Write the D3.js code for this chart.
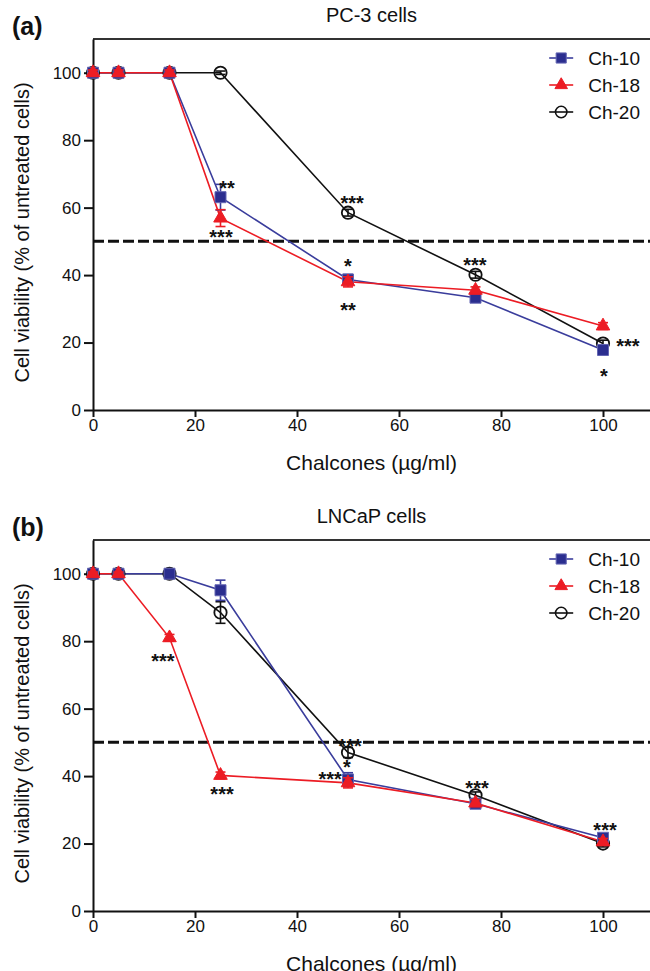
<!DOCTYPE html>
<html>
<head>
<meta charset="utf-8">
<script src="https://cdn.jsdelivr.net/npm/d3@7"></script>
<style>
  body { margin: 0; background: #fff; }
  text { font-family: Arial, "Liberation Sans", sans-serif; fill: #111; }
</style>
</head>
<body>
<div id="chart"></div>
<script>
// Doses tested (µg/ml)
const doses = [0, 5, 15, 25, 50, 75, 100];
const seriesNames = ["Ch-10", "Ch-18", "Ch-20"];

// PC-3 cells, % viability (mean, error)
const pc3Ch10 = [100, 100, 100, 63.1, 38.7, 33.3, 17.8];
const pc3Ch10Err = [0.8, 0.8, 0.8, 3.8, 1.5, 1.0, 1.5];
const pc3Ch18 = [100, 100, 100, 56.9, 38.0, 35.5, 24.9];
const pc3Ch18Err = [0.8, 0.8, 0.8, 2.5, 1.5, 1.0, 1.0];
const pc3Ch20 = [100, 100, 100, 100, 58.5, 40.1, 19.7];
const pc3Ch20Err = [0.5, 0.5, 0.5, 0.5, 1.0, 1.0, 1.0];

// LNCaP cells
const lncapCh10 = [100, 100, 100, 95.1, 39.0, 31.8, 21.7];
const lncapCh10Err = [0.5, 0.5, 0.5, 3.0, 2.0, 1.0, 1.0];
const lncapCh18 = [100, 100, 81.0, 40.2, 38.0, 32.0, 20.5];
const lncapCh18Err = [0.5, 0.5, 1.0, 1.0, 1.5, 1.0, 1.0];
const lncapCh20 = [100, 100, 100, 88.5, 47.0, 34.3, 20.0];
const lncapCh20Err = [0.5, 0.5, 0.5, 3.2, 1.5, 1.0, 1.0];

// significance marks: [dose, viability, label]
const pc3Stars = [[26.3, 67.2, "**"], [25.1, 52.7, "***"], [50.8, 63.0, "***"], [50, 44.1, "*"],
  [50, 31.1, "**"], [74.9, 44.4, "***"], [104.9, 20.4, "***"], [100.2, 11.5, "*"]];
const lncapStars = [[13.7, 75.7, "***"], [25.3, 36.1, "***"], [46.5, 40.5, "***"], [50.4, 50.3, "***"],
  [49.8, 44.1, "*"], [75.3, 37.9, "***"], [100.4, 25.4, "***"]];

const xTicks = [0, 20, 40, 60, 80, 100];
const yTicks = [0, 20, 40, 60, 80, 100];
const threshold = 50;

function pageLoad() {

const margin = { top: 39, left: 93 };
const width = 561;
const height = 371;
const panelGap = 501;

const svg = d3.select("#chart")
  .append("svg")
    .attr("width", 650)
    .attr("height", 971);

const x = d3.scaleLinear().domain([0, 110]).range([0, width]);
const y = d3.scaleLinear().domain([0, 110]).range([height, 0]);

const styles = {
  "Ch-10": { color: "#3a3d9c", fill: "#2b2e8f", stroke: "#6466b3", shape: d3.symbolSquare, size: 121 },
  "Ch-18": { color: "#ec1c24", fill: "#ec1c24", stroke: "#ec1c24", shape: d3.symbolTriangle, size: 80 },
  "Ch-20": { color: "#111", fill: "none", stroke: "#111", shape: d3.symbolCircle, size: 120 }
};

const panels = [
  { tag: "(a)", title: "PC-3 cells", series: [pc3Ch20, pc3Ch10, pc3Ch18],
    errs: [pc3Ch20Err, pc3Ch10Err, pc3Ch18Err], stars: pc3Stars },
  { tag: "(b)", title: "LNCaP cells", series: [lncapCh20, lncapCh10, lncapCh18],
    errs: [lncapCh20Err, lncapCh10Err, lncapCh18Err], stars: lncapStars }
];
const drawOrder = ["Ch-20", "Ch-10", "Ch-18"];

panels.forEach(function (p, pi) {
  const g = svg.append("g")
    .attr("transform", "translate(" + margin.left + "," + (margin.top + pi * panelGap) + ")");

  // panel tag and title
  g.append("text")
    .attr("x", -81).attr("y", -4)
    .style("font-size", "25px").style("font-weight", "bold")
    .text(p.tag);
  g.append("text")
    .attr("x", x(55) - 2).attr("y", -17)
    .attr("text-anchor", "middle")
    .style("font-size", "20px")
    .text(p.title);

  // frame top
  g.append("line")
    .attr("x1", 0).attr("x2", x(110))
    .attr("y1", 0).attr("y2", 0)
    .attr("stroke", "#333").attr("stroke-width", 2);

  // Y axis
  const yAxis = g.append("g")
    .call(d3.axisLeft(y).tickValues(yTicks).tickSize(9).tickPadding(3).tickSizeOuter(0));
  yAxis.selectAll("text").style("font-size", "17px").style("fill", "#111");

  // X axis
  const xAxis = g.append("g")
    .attr("transform", "translate(0," + height + ")")
    .call(d3.axisBottom(x).tickValues(xTicks).tickSize(7).tickPadding(2).tickSizeOuter(0));
  xAxis.selectAll("text").style("font-size", "17px").style("fill", "#111");
  [yAxis, xAxis].forEach(function (a) {
    a.select(".domain").attr("stroke", "#111").attr("stroke-width", 2);
    a.selectAll(".tick line").attr("stroke", "#111").attr("stroke-width", 2);
  });

  // axis titles
  g.append("text")
    .attr("x", x(55) - 2).attr("y", height + 60)
    .attr("text-anchor", "middle")
    .style("font-size", "21px")
    .text("Chalcones (µg/ml)");
  g.append("text")
    .attr("transform", "translate(-64," + (height / 2 + 8) + ") rotate(-90)")
    .attr("text-anchor", "middle")
    .style("font-size", "20px")
    .text("Cell viability (% of untreated cells)");

  // 50% line
  g.append("line")
    .attr("x1", 0).attr("x2", x(110))
    .attr("y1", y(threshold)).attr("y2", y(threshold))
    .attr("stroke", "#111").attr("stroke-width", 3)
    .attr("stroke-dasharray", "11,4");

  const line = d3.line()
    .x(function (d, i) { return x(doses[i]); })
    .y(function (d) { return y(d); });

  // lines first, then error bars and markers
  p.series.forEach(function (vals, si) {
    const st = styles[drawOrder[si]];
    g.append("path")
      .datum(vals)
      .attr("fill", "none")
      .attr("stroke", st.color)
      .attr("stroke-width", 1.6)
      .attr("d", line);
  });

  p.series.forEach(function (vals, si) {
    const st = styles[drawOrder[si]];
    const errs = p.errs[si];
    const eb = g.append("g").attr("stroke", st.color).attr("stroke-width", 1.6);
    vals.forEach(function (v, i) {
      const cx = x(doses[i]);
      eb.append("line").attr("x1", cx).attr("x2", cx)
        .attr("y1", y(v - errs[i])).attr("y2", y(v + errs[i]));
      [v - errs[i], v + errs[i]].forEach(function (e) {
        eb.append("line").attr("x1", cx - 5).attr("x2", cx + 5)
          .attr("y1", y(e)).attr("y2", y(e));
      });
    });
    g.append("g").selectAll("path")
      .data(vals)
      .join("path")
        .attr("transform", function (d, i) { return "translate(" + x(doses[i]) + "," + y(d) + ")"; })
        .attr("d", d3.symbol().type(st.shape).size(st.size))
        .attr("fill", st.fill)
        .attr("stroke", st.stroke)
        .attr("stroke-width", st.fill === "none" ? 1.8 : 1);
  });

  // significance stars
  g.append("g").selectAll("text")
    .data(p.stars)
    .join("text")
      .attr("x", function (d) { return x(d[0]); })
      .attr("y", function (d) { return y(d[1]); })
      .attr("dy", "0.6em")
      .attr("text-anchor", "middle")
      .style("font-size", "20px")
      .style("font-weight", "bold")
      .text(function (d) { return d[2]; });

  // legend
  const legend = g.append("g").attr("transform", "translate(" + (x(92) - 1) + ",0)");
  seriesNames.forEach(function (name, i) {
    const st = styles[name];
    const ly = 19 + i * 27;
    legend.append("line")
      .attr("x1", -12).attr("x2", 12).attr("y1", ly).attr("y2", ly)
      .attr("stroke", st.color).attr("stroke-width", 1.6);
    legend.append("path")
      .attr("transform", "translate(0," + ly + ")")
      .attr("d", d3.symbol().type(st.shape).size(st.size * 0.85))
      .attr("fill", st.fill)
      .attr("stroke", st.stroke)
      .attr("stroke-width", st.fill === "none" ? 1.6 : 1);
    legend.append("text")
      .attr("x", 27).attr("y", ly)
      .attr("dy", "0.35em")
      .style("font-size", "19px")
      .text(name);
  });
});

}

window.addEventListener("load", pageLoad);
</script>
</body>
</html>
